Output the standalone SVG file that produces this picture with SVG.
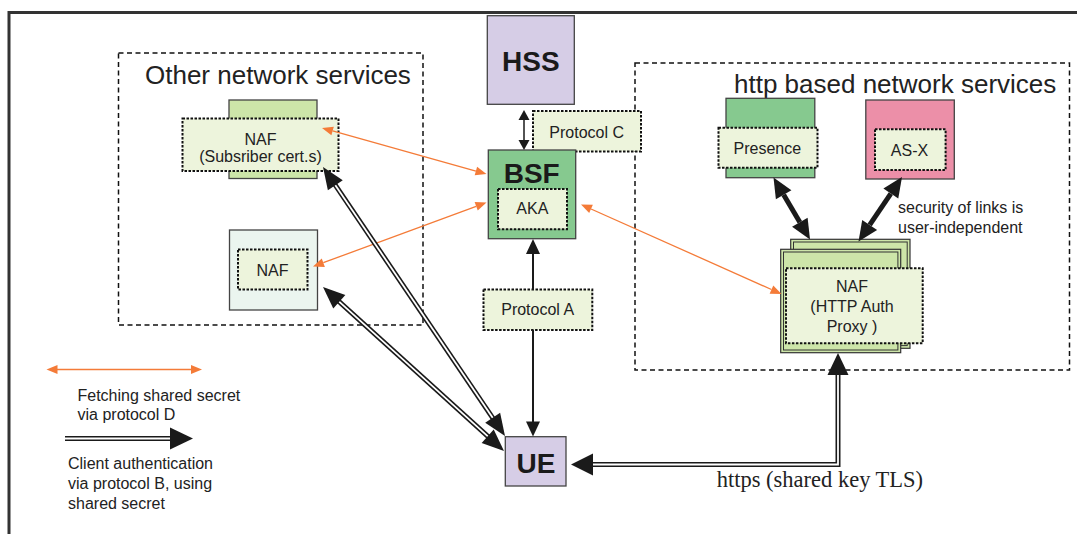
<svg xmlns="http://www.w3.org/2000/svg" width="1077" height="534" viewBox="0 0 1077 534">
<style>
text{font-family:"Liberation Sans",Arial,sans-serif;fill:#222}
.t16{font-size:16px}
.big{font-size:28px;font-weight:bold;fill:#1a1a1a}
.title{font-size:26px}
.mid{text-anchor:middle}
.grp{fill:none;stroke:#111;stroke-width:1.5;stroke-dasharray:5 3.5}
.dot{fill:#edf4dc;stroke:#111;stroke-width:2;stroke-dasharray:2.5 1.5}
.box{stroke:#444;stroke-width:1.3}
.lav{fill:#d6cde6}
.grn{fill:#86c98f}
.lgrn{fill:#cde5a9}
.or{stroke:#f47b38;stroke-width:1.3;fill:none}
.orh{fill:#f47b38}
.blk{stroke:#1a1a1a;fill:none}
.bh{fill:#1a1a1a}
.dbo{stroke:#1a1a1a;stroke-width:5;fill:none}
.dbi{stroke:#fff;stroke-width:1.8;fill:none}
</style>
<rect width="1077" height="534" fill="#fff"/>
<path d="M9,534 V12.5 H1077" fill="none" stroke="#333" stroke-width="3"/>

<g id="other-network-services">
<rect class="grp" x="118.5" y="53" width="304.5" height="272"/>
<text class="title" x="145" y="84">Other network services</text>
</g>
<g id="http-network-services">
<rect class="grp" x="635" y="63" width="434.5" height="307"/>
<text class="title" x="734" y="93">http based network services</text>
</g>

<g id="naf-subscriber">
<rect class="box lgrn" x="229" y="100" width="88" height="78.5"/>
<rect class="dot" x="182.5" y="118.5" width="156" height="52.5"/>
<text class="t16 mid" x="260.5" y="145">NAF</text>
<text class="t16 mid" x="260.5" y="162">(Subsriber cert.s)</text>
</g>

<g id="naf-lower">
<rect class="box" fill="#ebf5ef" x="229.5" y="230" width="88" height="80"/>
<rect class="dot" x="238" y="249.5" width="69.5" height="40"/>
<text class="t16 mid" x="272.5" y="276">NAF</text>
</g>

<g id="hss">
<rect class="box lav" x="487.3" y="15.7" width="87" height="88.6"/>
<text class="big mid" x="530.8" y="71">HSS</text>
</g>

<g id="protocol-c">
<rect class="dot" x="533" y="111" width="108" height="40.5"/>
<text class="t16 mid" x="586.7" y="138">Protocol C</text>
</g>

<g id="bsf">
<rect class="box grn" x="488.3" y="150" width="87.4" height="88.7"/>
<text class="big mid" x="531.7" y="183">BSF</text>
<rect class="dot" x="498" y="189" width="69" height="40.3"/>
<text class="t16 mid" x="532.3" y="214">AKA</text>
</g>

<g id="protocol-a">
<rect class="dot" x="483.5" y="289.5" width="108.8" height="40.5"/>
<text class="t16 mid" x="537.7" y="315">Protocol A</text>
</g>

<g id="ue">
<rect class="box lav" x="505.3" y="436.7" width="60.7" height="49.3"/>
<text class="big mid" x="536" y="472.5">UE</text>
</g>

<g id="presence">
<rect class="box grn" x="726" y="98.3" width="88.8" height="79.4"/>
<rect class="dot" x="718.5" y="127.7" width="99" height="40"/>
<text class="t16 mid" x="767.3" y="154">Presence</text>
</g>

<g id="as-x">
<rect class="box" fill="#ec8fa8" x="865.8" y="100" width="88.5" height="79"/>
<rect class="dot" x="875" y="129.3" width="70.6" height="40.7"/>
<text class="t16 mid" x="909.5" y="156">AS-X</text>
</g>

<g id="naf-proxy">
<rect class="lgrn" stroke="#333" stroke-width="1.2" x="790.7" y="239.3" width="119.3" height="109"/>
<rect fill="none" stroke="#333" stroke-width="1" x="793.5" y="242" width="113.7" height="103.6"/>
<rect class="lgrn" stroke="#333" stroke-width="1.2" x="780.7" y="249.3" width="120" height="103.4"/>
<rect fill="none" stroke="#333" stroke-width="1" x="783.5" y="252" width="114.4" height="98"/>
<rect class="dot" x="786" y="268.3" width="136.7" height="75"/>
<text class="t16 mid" x="852" y="291.7">NAF</text>
<text class="t16 mid" x="852" y="311.7">(HTTP Auth</text>
<text class="t16 mid" x="852" y="331.7">Proxy )</text>
</g>

<g id="security-label">
<text class="t16" x="898" y="213.3">security of links is</text>
<text class="t16" x="898" y="232.7">user-independent</text>
</g>

<g id="connectors">
<!-- HSS <-> BSF -->
<line class="blk" stroke-width="1.5" x1="524" y1="119" x2="524" y2="141"/>
<polygon class="bh" points="524,110 518.5,120 529.5,120"/>
<polygon class="bh" points="524,150 518.5,140 529.5,140"/>
<!-- BSF <-> UE via Protocol A -->
<line class="blk" stroke-width="2" x1="533" y1="253" x2="533" y2="289.5"/>
<line class="blk" stroke-width="2" x1="533" y1="330" x2="533" y2="423"/>
<polygon class="bh" points="533,239 526,254 540,254"/>
<polygon class="bh" points="533,436.5 526,421.5 540,421.5"/>
<!-- orange protocol D -->
<line class="or" x1="332.59" y1="130.96" x2="475.91" y2="171.04"/>
<polygon class="orh" points="322,128 331.38,135.29 333.8,126.63"/>
<polygon class="orh" points="486.5,174 474.7,175.37 477.12,166.71"/>
<line class="or" x1="323.32" y1="262.69" x2="476.18" y2="206.31"/>
<polygon class="orh" points="313,266.5 324.88,266.91 321.76,258.47"/>
<polygon class="orh" points="486.5,202.5 477.74,210.53 474.62,202.09"/>
<line class="or" x1="591.04" y1="208.98" x2="771.46" y2="289.52"/>
<polygon class="orh" points="581,204.5 589.21,213.09 592.87,204.87"/>
<polygon class="orh" points="781.5,294 769.63,293.63 773.29,285.41"/>
<!-- double line UE <-> NAF subscriber -->
<line class="dbo" x1="334" y1="183.2" x2="494" y2="419.8"/>
<line class="dbi" x1="334" y1="183.2" x2="494" y2="419.8"/>
<polygon class="bh" points="323,167 342.78,180.18 327.88,190.26"/>
<polygon class="bh" points="505,436 500.12,412.74 485.22,422.82"/>
<!-- double line UE <-> NAF lower -->
<line class="dbo" x1="338" y1="300.6" x2="489" y2="437.4"/>
<line class="dbi" x1="338" y1="300.6" x2="489" y2="437.4"/>
<polygon class="bh" points="323,287 333.27,308.45 345.35,295.11"/>
<polygon class="bh" points="504,451 481.65,442.89 493.73,429.55"/>
<!-- https UE <-> NAF proxy -->
<path class="dbo" d="M591,464.5 H838 V374" stroke-linejoin="miter"/>
<path class="dbi" d="M591,464.5 H838 V374" stroke-linejoin="miter"/>
<polygon class="bh" points="571,464.5 593,453.5 593,475.5"/>
<polygon class="bh" points="838,353 827.5,375 848.5,375"/>
<!-- thick arrows -->
<line class="blk" stroke-width="5" x1="783.65" y1="194.74" x2="799.85" y2="222.26"/>
<polygon class="bh" points="773.5,177.5 775.89,199.31 791.41,190.17"/>
<polygon class="bh" points="810,239.5 792.09,226.83 807.61,217.69"/>
<line class="blk" stroke-width="5" x1="890.82" y1="193.58" x2="869.68" y2="224.92"/>
<polygon class="bh" points="902,177 883.36,188.55 898.28,198.61"/>
<polygon class="bh" points="858.5,241.5 862.22,219.89 877.14,229.95"/>
</g>

<g id="https-label">
<text x="716.7" y="486.7" style="font-family:'Liberation Serif','Times New Roman',serif;font-size:22.5px">https (shared key TLS)</text>
</g>

<g id="legend">
<line class="or" x1="57" y1="369.5" x2="191.5" y2="369.5"/>
<polygon class="orh" points="46.5,369.5 57.5,365 57.5,374"/>
<polygon class="orh" points="202,369.5 191,365 191,374"/>
<text class="t16" x="77.5" y="400.7">Fetching shared secret</text>
<text class="t16" x="77.5" y="420">via protocol D</text>
<line class="dbo" x1="65" y1="438.5" x2="171" y2="438.5"/>
<line class="dbi" x1="65" y1="438.5" x2="171" y2="438.5"/>
<polygon class="bh" points="193,438.5 170,427.5 170,449.5"/>
<text class="t16" x="68" y="469">Client authentication</text>
<text class="t16" x="68" y="489">via protocol B, using</text>
<text class="t16" x="68" y="509">shared secret</text>
</g>
</svg>
